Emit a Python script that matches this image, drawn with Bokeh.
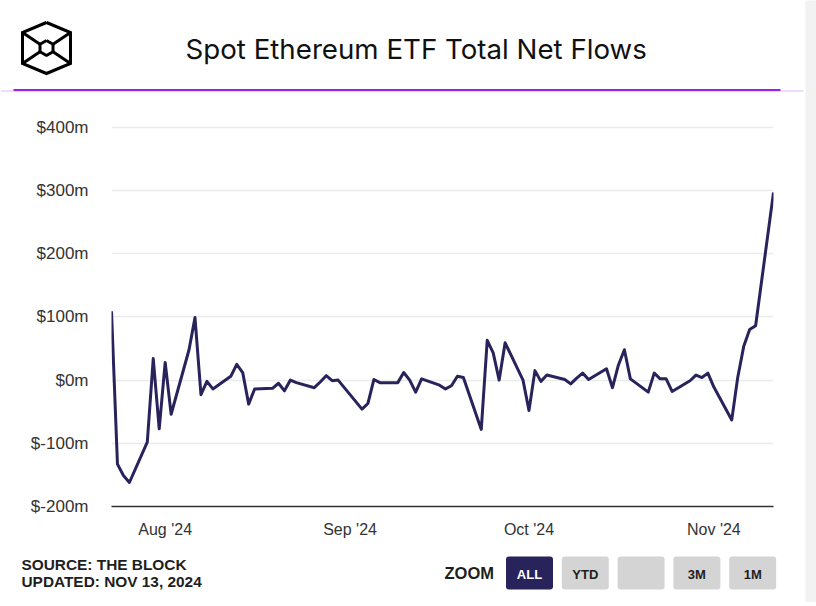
from datetime import datetime
from bokeh.plotting import figure
from bokeh.layouts import column, row
from bokeh.models import (Range1d, FixedTicker, PrintfTickFormatter,
                          DatetimeTickFormatter, MonthsTicker)
from bokeh.core.properties import value
from bokeh.embed import file_html
from bokeh.resources import INLINE

# ---------------- data ----------------
dates = [
    "2024-07-23", "2024-07-24", "2024-07-25", "2024-07-26", "2024-07-29", "2024-07-30", "2024-07-31",
    "2024-08-01", "2024-08-02", "2024-08-05", "2024-08-06", "2024-08-07", "2024-08-08", "2024-08-09",
    "2024-08-12", "2024-08-13", "2024-08-14", "2024-08-15", "2024-08-16", "2024-08-19", "2024-08-20",
    "2024-08-21", "2024-08-22", "2024-08-23", "2024-08-26", "2024-08-27", "2024-08-28", "2024-08-29",
    "2024-08-30", "2024-09-03", "2024-09-04", "2024-09-05", "2024-09-06", "2024-09-09", "2024-09-10",
    "2024-09-11", "2024-09-12", "2024-09-13", "2024-09-16", "2024-09-17", "2024-09-18", "2024-09-19",
    "2024-09-20", "2024-09-23", "2024-09-24", "2024-09-25", "2024-09-26", "2024-09-27", "2024-09-30",
    "2024-10-01", "2024-10-02", "2024-10-03", "2024-10-04", "2024-10-07", "2024-10-08", "2024-10-09",
    "2024-10-10", "2024-10-11", "2024-10-14", "2024-10-15", "2024-10-16", "2024-10-17", "2024-10-18",
    "2024-10-21", "2024-10-22", "2024-10-23", "2024-10-24", "2024-10-25", "2024-10-28", "2024-10-29",
    "2024-10-30", "2024-10-31", "2024-11-01", "2024-11-04", "2024-11-05", "2024-11-06", "2024-11-07",
    "2024-11-08", "2024-11-11",
]
flows = [
    109, -133, -151, -162, -98, 34, -77,
    28, -54, 48, 99, -23, -2, -14,
    6, 25, 12, -38, -14, -13, -5,
    -17, 0, -4, -12, -3, 7, -1,
    0, -46, -37, 1, -4, -4, 12,
    0, -19, 2, -8, -14, -9, 6,
    4, -78, 63, 43, 0, 59, 0,
    -48, 15, -2, 8, 1, -6, 3,
    11, 1, 18, -12, 24, 48, 2,
    -19, 11, 2, 2, -18, -1, 8,
    4, 11, -11, -63, 4, 53, 80,
    86, 297,
]
y_ticks = [-200, -100, 0, 100, 200, 300, 400]
chart_title = "Spot Ethereum ETF Total Net Flows"
source_lines = ["SOURCE: THE BLOCK", "UPDATED: NOV 13, 2024"]
zoom_label = "ZOOM"
zoom_buttons = ["ALL", "YTD", "", "3M", "1M"]

x_dates = [datetime.strptime(d, "%Y-%m-%d") for d in dates]

W = 805
LINE = "#29235c"
TXT = "#1e1e1e"


def canvas(h, y0):
    f = figure(width=W, height=h, x_range=Range1d(0, W), y_range=Range1d(y0 + h, y0),
               output_backend="svg", toolbar_location=None, min_border=0,
               x_axis_location=None, y_axis_location=None, frame_align=False)
    f.grid.visible = False
    f.outline_line_color = None
    return f


# ---------------- header ----------------
head = canvas(98, 0)
cx, cy = 46, 47.5
outer_x = [cx, 70, 70, cx, 22, 22, cx]
outer_y = [22, 32, 63, 73, 63, 32, 22]
head.line(outer_x, outer_y, line_color="black", line_width=3, line_join="miter")
inner_x = [cx, cx + 6.5, cx + 6.5, cx, cx - 6.5, cx - 6.5, cx]
inner_y = [cy - 7.5, cy - 3.8, cy + 3.8, cy + 7.5, cy + 3.8, cy - 3.8, cy - 7.5]
head.line(inner_x, inner_y, line_color="black", line_width=3)
head.multi_line(xs=[[22, cx - 6.5], [70, cx + 6.5], [22, cx - 6.5], [70, cx + 6.5]],
                ys=[[32, cy - 3.8], [32, cy - 3.8], [63, cy + 3.8], [63, cy + 3.8]],
                line_color="black", line_width=3)
head.text(x=[185], y=[48.5], text=[chart_title], text_font=value("Inter"),
          text_font_size="27.7px", text_color="#111111", text_baseline="alphabetic")
head.segment(x0=[0], y0=[90.5], x1=[803], y1=[90.5], line_color="#e3b6ff", line_width=1)
head.segment(x0=[13], y0=[89.5], x1=[780], y1=[89.5], line_color="#a11ee8", line_width=2)

# ---------------- main chart ----------------
p = figure(width=W, height=450, x_axis_type="datetime",
           x_range=Range1d(x_dates[0], x_dates[-1]), y_range=Range1d(-200, 415.5),
           min_border_left=111, min_border_right=W - 773, min_border_top=19, min_border_bottom=42,
           output_backend="svg", toolbar_location=None, frame_align=False)
p.outline_line_color = None
p.xgrid.visible = False
p.ygrid.grid_line_color = "#ebebeb"
p.ygrid.grid_line_width = 1.5

p.yaxis.ticker = FixedTicker(ticks=y_ticks)
p.yaxis.formatter = PrintfTickFormatter(format="$%dm")
p.yaxis.axis_line_color = None
p.yaxis.major_tick_line_color = None
p.yaxis.minor_tick_line_color = None
p.yaxis.major_label_standoff = 17
p.yaxis.major_label_text_font = "Liberation Sans"
p.yaxis.major_label_text_font_size = "17px"
p.yaxis.major_label_text_color = "#333333"

p.xaxis.ticker = MonthsTicker(months=list(range(12)))
p.xaxis.formatter = DatetimeTickFormatter(months="%b '%y", days="%b '%y")
p.xaxis.axis_line_color = "#333333"
p.xaxis.axis_line_width = 1.5
p.xaxis.major_tick_line_color = None
p.xaxis.minor_tick_line_color = None
p.xaxis.major_label_standoff = 8
p.xaxis.major_label_text_font = "Liberation Sans"
p.xaxis.major_label_text_font_size = "16px"
p.xaxis.major_label_text_color = "#333333"

p.line(x_dates, flows, line_color=LINE, line_width=3, line_join="round")

# ---------------- footer ----------------
foot = canvas(54, 548)
foot.text(x=[21, 21], y=[564, 581], text=source_lines, text_font=value("Liberation Sans"),
          text_font_style="bold", text_font_size="15.4px", text_color=TXT,
          text_baseline="alphabetic")
foot.text(x=[444], y=[572.5], text=[zoom_label], text_font=value("Liberation Sans"),
          text_font_style="bold", text_font_size="16.5px", text_color=TXT,
          text_baseline="alphabetic")
btn_x = [529 + 55.8 * i for i in range(len(zoom_buttons))]
btn_fill = [LINE if i == 0 else "#d4d4d4" for i in range(len(zoom_buttons))]
btn_txt = ["white" if i == 0 else TXT for i in range(len(zoom_buttons))]
foot.rect(x=btn_x, y=[572.5] * len(btn_x), width=47, height=33, fill_color=btn_fill,
          line_color=None, border_radius=3)
foot.text(x=btn_x, y=[574] * len(btn_x), text=zoom_buttons, text_font=value("Liberation Sans"),
          text_font_style="bold", text_font_size="13px", text_color=btn_txt,
          text_align="center", text_baseline="middle")

# ---------------- right grey strip ----------------
strip = figure(width=11, height=602, output_backend="svg", toolbar_location=None, min_border=0,
               x_axis_location=None, y_axis_location=None, frame_align=False,
               background_fill_color="#f2f2f2", border_fill_color="#f2f2f2")
strip.grid.visible = False
strip.outline_line_color = None

page = row(column(head, p, foot), strip)
open("out.html", "w").write(file_html(page, INLINE))
